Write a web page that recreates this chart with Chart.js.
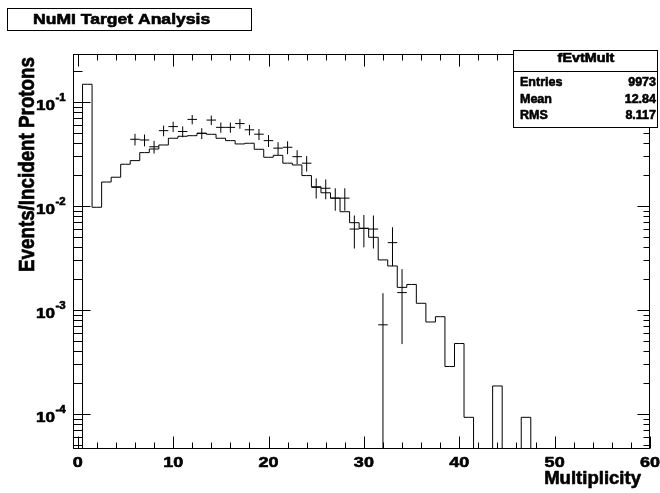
<!DOCTYPE html>
<html>
<head>
<meta charset="utf-8">
<script src="https://cdn.jsdelivr.net/npm/chart.js@4.4.0/dist/chart.umd.min.js"></script>
<style>
  html, body { margin: 0; padding: 0; background: #fff; }
  canvas { display: block; }
</style>
</head>
<body>
<canvas id="mult-chart" width="660" height="493"></canvas>
<script>
// simulated multiplicity (histogram), one value per bin centre
const mcBins = [0, 1, 2, 3, 4, 5, 6, 7, 8, 9, 10, 11, 12, 13, 14, 15, 16, 17, 18, 19,
  20, 21, 22, 23, 24, 25, 26, 27, 28, 29, 30, 31, 32, 33, 34, 35, 36, 37, 38, 39,
  40, 41, 42, 43, 44, 45, 46, 47, 48, 49, 50, 51, 52, 53, 54, 55, 56, 57, 58, 59];
const mcValues = [0, 0.148, 0.00972, 0.0170, 0.0189, 0.0252, 0.0273, 0.0326, 0.0353, 0.0386,
  0.0448, 0.0468, 0.0474, 0.0500, 0.0489, 0.0448, 0.0425, 0.0395, 0.0401, 0.0351,
  0.0294, 0.0307, 0.0258, 0.0248, 0.0196, 0.0153, 0.0134, 0.0119, 0.00881, 0.00691,
  0.00610, 0.00500, 0.00303, 0.00265, 0.00165, 0.00176, 0.00116, 0.000767, 0.000862, 0.000286,
  0.000476, 0.0000929, 0, 0, 0.000186, 0, 0, 0.0000929, 0, 0,
  0, 0, 0, 0, 0, 0, 0, 0, 0, 0];

// measured points with errors
const dataBins = [6, 7, 8, 9, 10, 11, 12, 13, 14, 15, 16, 17, 18, 19, 20,
  21, 22, 23, 24, 25, 26, 27, 28, 29, 30, 31, 32, 33, 34];
const dataValues = [0.0438, 0.0431, 0.0371, 0.0530, 0.0580, 0.0520, 0.0680, 0.0500, 0.0670, 0.0570,
  0.0570, 0.0620, 0.0540, 0.0490, 0.0425, 0.0360, 0.0367, 0.0298, 0.0258, 0.0151,
  0.0148, 0.0119, 0.0119, 0.0060, 0.0061, 0.0060, 0.00072, 0.00444, 0.00147];
const dataErrors = [0.0056, 0.0056, 0.0052, 0.0062, 0.0065, 0.0062, 0.0070, 0.0060, 0.0070, 0.0064,
  0.0064, 0.0067, 0.0062, 0.0060, 0.0056, 0.0051, 0.0052, 0.0046, 0.0044, 0.0033,
  0.0032, 0.0029, 0.0029, 0.0021, 0.0021, 0.0021, 0.00073, 0.0018, 0.0010];

const xTicks = [0, 10, 20, 30, 40, 50, 60];
const yTicks = [1e-4, 1e-3, 1e-2, 1e-1];
const yTickExp = ['-4', '-3', '-2', '-1'];
const statsTitle = 'fEvtMult';
const statsRows = [['Entries', '9973'], ['Mean', '12.84'], ['RMS', '8.117']];

const FONT = '"Liberation Sans", Arial, Helvetica, sans-serif';

// bold text, slightly stretched and stroked to get the heavy ROOT look
function drawText(ctx, text, x, y, size, align, sx) {
  ctx.save();
  ctx.font = 'bold ' + size + 'px ' + FONT;
  ctx.fillStyle = '#000';
  ctx.strokeStyle = '#000';
  ctx.lineWidth = 0.6;
  ctx.lineJoin = 'round';
  ctx.textAlign = align;
  ctx.textBaseline = 'alphabetic';
  ctx.translate(x, y);
  ctx.scale(sx, 1);
  ctx.fillText(text, 0, 0);
  ctx.strokeText(text, 0, 0);
  ctx.restore();
}

function line(ctx, x1, y1, x2, y2) {
  ctx.beginPath();
  ctx.moveTo(x1, y1);
  ctx.lineTo(x2, y2);
  ctx.stroke();
}

const whiteBg = {
  id: 'whiteBg',
  beforeDraw(chart) {
    const ctx = chart.ctx;
    ctx.save();
    ctx.fillStyle = '#fff';
    ctx.fillRect(0, 0, chart.width, chart.height);
    ctx.restore();
  }
};

// crosses: horizontal bar over the bin, vertical error bar
const errorBars = {
  id: 'errorBars',
  afterDatasetsDraw(chart) {
    const ctx = chart.ctx;
    const xs = chart.scales.x, ys = chart.scales.y;
    const area = chart.chartArea;
    ctx.save();
    ctx.beginPath();
    ctx.rect(area.left, area.top, area.right - area.left, area.bottom - area.top);
    ctx.clip();
    ctx.strokeStyle = '#000';
    ctx.lineWidth = 1;
    dataBins.forEach((b, i) => {
      const v = dataValues[i], e = dataErrors[i];
      const py = ys.getPixelForValue(v);
      const px = xs.getPixelForValue(b);
      const hi = ys.getPixelForValue(v + e);
      const lo = v - e > 0 ? ys.getPixelForValue(v - e) : area.bottom;
      line(ctx, xs.getPixelForValue(b - 0.5), py, xs.getPixelForValue(b + 0.5), py);
      line(ctx, px, hi, px, lo);
    });
    ctx.restore();
  }
};

// ROOT-style frame, ticks, labels, title and stats box
const rootFrame = {
  id: 'rootFrame',
  afterDraw(chart) {
    const ctx = chart.ctx;
    const xs = chart.scales.x, ys = chart.scales.y;
    const a = chart.chartArea;
    const L = Math.round(a.left) + 0.5, R = Math.round(a.right) - 0.5;
    const T = Math.round(a.top) + 0.5, B = Math.round(a.bottom) - 0.5;
    ctx.save();
    ctx.strokeStyle = '#000';
    ctx.lineWidth = 1;
    ctx.strokeRect(L, T, R - L, B - T);

    // x ticks, every 2, major every 10
    for (let v = 0; v <= 60; v += 2) {
      const px = Math.round(xs.getPixelForValue(v)) + 0.5;
      const len = v % 10 === 0 ? 12 : 6;
      line(ctx, px, B, px, B - len);
      line(ctx, px, T, px, T + len);
    }
    // log y ticks
    for (let e = -5; e <= 0; e++) {
      for (let m = 1; m <= 9; m++) {
        const v = m * Math.pow(10, e);
        if (v < ys.min || v > ys.max) continue;
        const py = Math.round(ys.getPixelForValue(v)) + 0.5;
        line(ctx, L, py, L + (m === 1 ? 17 : 9), py);
        line(ctx, R, py, R - (m === 1 ? 12 : 6), py);
      }
    }

    // x tick labels
    xTicks.forEach(v => {
      drawText(ctx, String(v), xs.getPixelForValue(v), 467, 15, 'center', 1.2);
    });
    // y tick labels 10^n
    yTicks.forEach((v, i) => {
      const py = ys.getPixelForValue(v);
      drawText(ctx, '10', 55, py + 8, 15, 'right', 1.14);
      drawText(ctx, yTickExp[i], 55.5, py - 1, 10, 'left', 1.14);
    });

    // axis titles
    drawText(ctx, 'Multiplicity', 641, 484, 17.5, 'right', 1.06);
    ctx.save();
    ctx.font = 'bold 18.8px ' + FONT;
    ctx.fillStyle = '#000';
    ctx.strokeStyle = '#000';
    ctx.lineWidth = 0.6;
    ctx.textAlign = 'right';
    ctx.textBaseline = 'alphabetic';
    ctx.translate(34, 57);
    ctx.scale(1.15, 1);
    ctx.rotate(-Math.PI / 2);
    ctx.fillText('Events/Incident Protons', 0, 0);
    ctx.strokeText('Events/Incident Protons', 0, 0);
    ctx.restore();

    // title box
    ctx.fillStyle = '#fff';
    ctx.fillRect(7.5, 8.5, 244, 22);
    ctx.strokeRect(7.5, 8.5, 244, 22);
    drawText(ctx, 'NuMI Target Analysis', 33, 23.5, 15, 'left', 1.17);

    // stats box
    ctx.fillStyle = '#fff';
    ctx.fillRect(513.5, 50.5, 144, 77);
    ctx.strokeRect(513.5, 50.5, 144, 77);
    line(ctx, 513.5, 71.5, 657.5, 71.5);
    drawText(ctx, statsTitle, 586, 61.5, 12, 'center', 1.2);
    statsRows.forEach((r, i) => {
      const by = 86 + i * 16.6;
      drawText(ctx, r[0], 520, by, 12.5, 'left', 1.0);
      drawText(ctx, r[1], 656, by, 12.5, 'right', 1.0);
    });
    ctx.restore();
  }
};

const ctx = document.getElementById('mult-chart').getContext('2d');
new Chart(ctx, {
  type: 'line',
  data: {
    datasets: [{
      label: 'MC',
      data: mcBins.map((b, i) => ({ x: b, y: mcValues[i] > 0 ? mcValues[i] : 1e-9 })),
      stepped: 'middle',
      borderColor: '#000',
      borderWidth: 1,
      pointRadius: 0,
      fill: false
    }, {
      label: 'Data',
      type: 'scatter',
      data: dataBins.map((b, i) => ({ x: b, y: dataValues[i] })),
      pointRadius: 0,
      showLine: false
    }]
  },
  options: {
    responsive: false,
    animation: false,
    devicePixelRatio: 1,
    layout: { padding: { left: 73, right: 10, top: 54, bottom: 44 } },
    plugins: {
      legend: { display: false },
      tooltip: { enabled: false },
      title: { display: false }
    },
    scales: {
      x: { type: 'linear', min: -0.5, max: 60, display: false },
      y: { type: 'logarithmic', min: 4.607e-5, max: 0.2893, display: false }
    }
  },
  plugins: [whiteBg, errorBars, rootFrame]
});
</script>
</body>
</html>
